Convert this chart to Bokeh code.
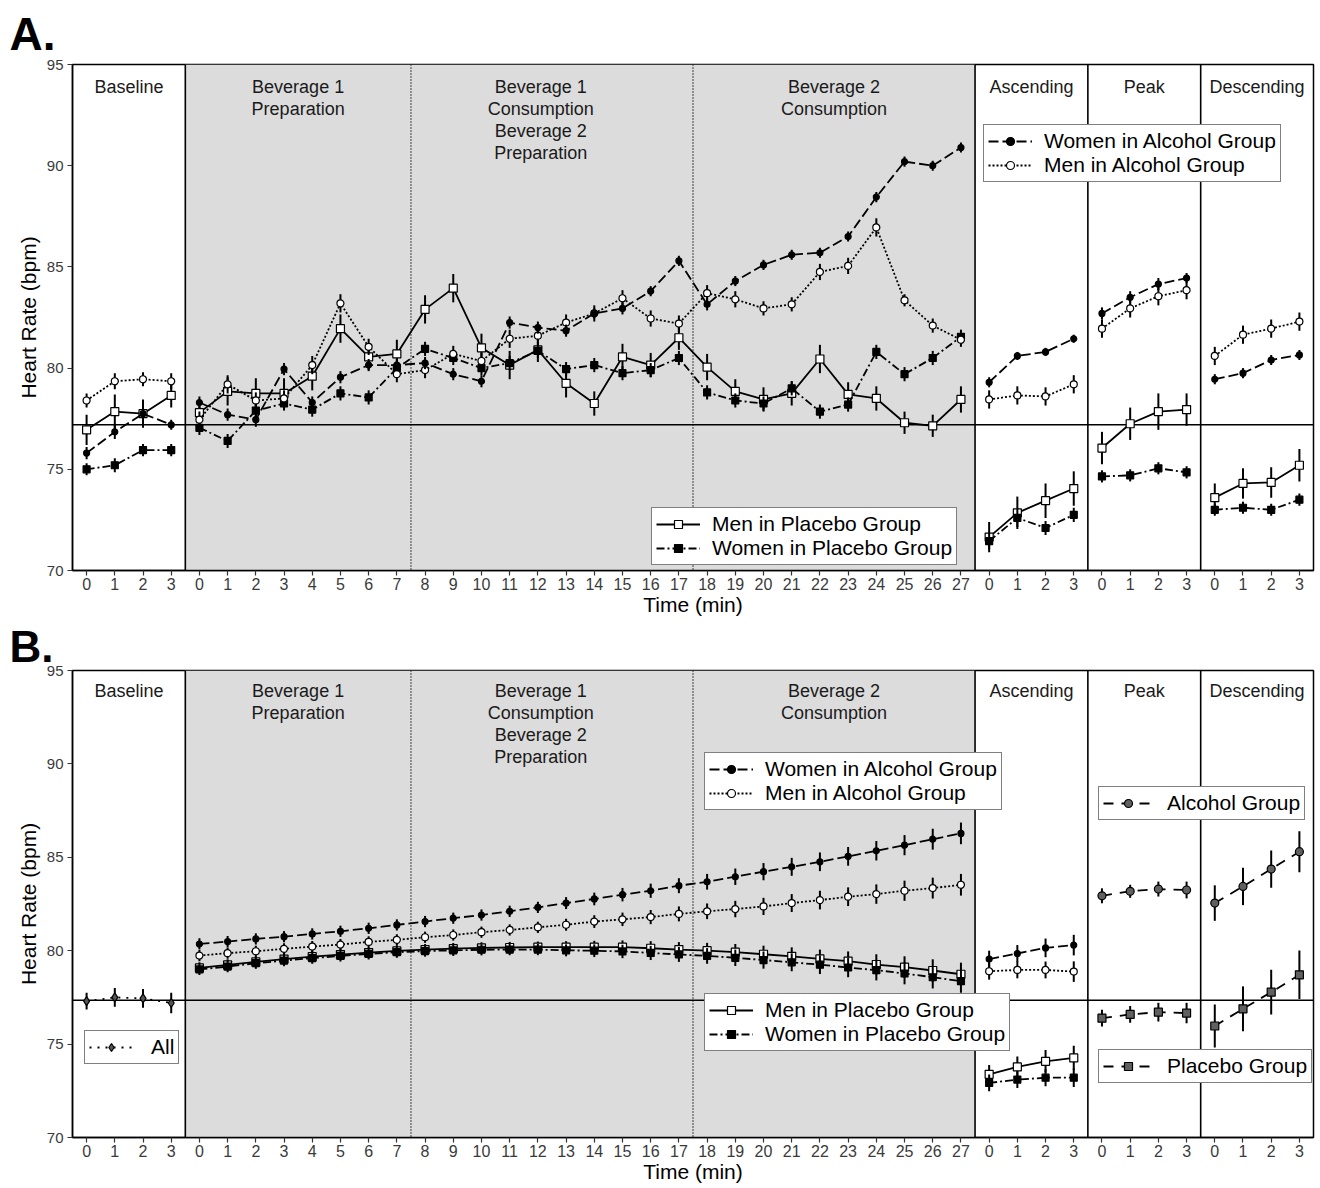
from bokeh.plotting import figure
from bokeh.models import (Span, BoxAnnotation, Legend, LegendItem, Title,
                          FixedTicker, Range1d, ColumnDataSource)
from bokeh.layouts import column
from bokeh.core.properties import value
from bokeh.embed import file_html
from bokeh.resources import INLINE

FONT = "Liberation Sans"

# ------------------------------------------------------------------ data
base_min = [0, 1, 2, 3]
bev_min = [0, 1, 2, 3, 4, 5, 6, 7, 8, 9, 10, 11, 12, 13, 14, 15, 16, 17, 18,
           19, 20, 21, 22, 23, 24, 25, 26, 27]
phase_min = [0, 1, 2, 3]

section_titles = ["Baseline", "Beverage 1\nPreparation",
                  "Beverage 1\nConsumption\nBeverage 2\nPreparation",
                  "Beverage 2\nConsumption", "Ascending", "Peak", "Descending"]

# Panel A -- means
A_wa_base = [75.8, 76.85, 77.75, 77.2]
A_ma_base = [78.4, 79.35, 79.45, 79.35]
A_mp_base = [76.95, 77.85, 77.75, 78.65]
A_wp_base = [75.0, 75.2, 75.95, 75.95]

A_wa_bev = [78.3, 77.7, 77.45, 79.95, 78.3, 79.55, 80.15, 80.15, 80.25, 79.7,
            79.35, 82.25, 82.0, 81.85, 82.7, 82.95, 83.8, 85.3, 83.15, 84.3,
            85.1, 85.6, 85.7, 86.5, 88.45, 90.2, 90.0, 90.9]
A_ma_bev = [77.45, 79.2, 78.4, 78.5, 80.15, 83.2, 81.05, 79.7, 79.9, 80.7,
            80.35, 81.45, 81.6, 82.25, 82.7, 83.45, 82.45, 82.2, 83.7, 83.4,
            82.95, 83.15, 84.75, 85.05, 86.95, 83.35, 82.1, 81.4]
A_mp_bev = [77.8, 78.85, 78.75, 78.75, 79.6, 81.95, 80.55, 80.7, 82.9, 83.95,
            81.0, 80.15, 80.9, 79.25, 78.25, 80.55, 80.15, 81.5, 80.05, 78.85,
            78.45, 78.75, 80.45, 78.7, 78.5, 77.3, 77.15, 78.45]
A_wp_bev = [77.05, 76.4, 77.9, 78.25, 77.95, 78.75, 78.55, 80.0, 80.95, 80.5,
            80.0, 80.25, 80.85, 79.95, 80.15, 79.75, 79.9, 80.5, 78.8, 78.4,
            78.25, 79.0, 77.85, 78.2, 80.8, 79.7, 80.5, 81.55]

A_wa_asc = [79.3, 80.6, 80.8, 81.45]
A_ma_asc = [78.45, 78.65, 78.6, 79.2]
A_mp_asc = [71.65, 72.85, 73.45, 74.05]
A_wp_asc = [71.45, 72.6, 72.1, 72.75]

A_wa_peak = [82.7, 83.5, 84.15, 84.45]
A_ma_peak = [81.95, 82.95, 83.55, 83.85]
A_mp_peak = [76.05, 77.25, 77.85, 77.95]
A_wp_peak = [74.65, 74.7, 75.05, 74.85]

A_wa_desc = [79.45, 79.75, 80.4, 80.65]
A_ma_desc = [80.6, 81.65, 81.95, 82.3]
A_mp_desc = [73.6, 74.3, 74.35, 75.2]
A_wp_desc = [73.0, 73.1, 73.0, 73.5]

# Panel A -- error bar half-widths
A_wa_base_e = [0.3, 0.35, 0.35, 0.25]
A_ma_base_e = [0.35, 0.4, 0.35, 0.4]
A_mp_base_e = [0.75, 0.85, 0.7, 0.6]
A_wp_base_e = [0.3, 0.35, 0.3, 0.3]
A_wa_bev_e = [0.3, 0.3, 0.35, 0.3, 0.3, 0.3, 0.3, 0.3, 0.3, 0.3, 0.3, 0.3,
              0.3, 0.3, 0.25, 0.3, 0.25, 0.25, 0.3, 0.25, 0.25, 0.25, 0.25,
              0.25, 0.25, 0.25, 0.25, 0.25]
A_ma_bev_e = [0.4, 0.45, 0.4, 0.4, 0.45, 0.45, 0.4, 0.4, 0.4, 0.4, 0.4, 0.45,
              0.4, 0.4, 0.4, 0.4, 0.4, 0.4, 0.4, 0.4, 0.35, 0.35, 0.4, 0.4,
              0.45, 0.3, 0.35, 0.35]
A_mp_bev_e = [0.55, 0.7, 0.75, 0.75, 0.7, 0.7, 0.65, 0.7, 0.7, 0.7, 0.7, 0.7,
              0.6, 0.7, 0.6, 0.65, 0.6, 0.6, 0.65, 0.6, 0.6, 0.6, 0.7, 0.6,
              0.6, 0.55, 0.55, 0.65]
A_wp_bev_e = [0.35, 0.35, 0.35, 0.35, 0.35, 0.35, 0.35, 0.35, 0.35, 0.35,
              0.35, 0.35, 0.35, 0.35, 0.35, 0.35, 0.35, 0.35, 0.35, 0.35,
              0.35, 0.35, 0.35, 0.35, 0.35, 0.35, 0.35, 0.35]
A_wa_asc_e = [0.25, 0.2, 0.2, 0.2]
A_ma_asc_e = [0.45, 0.45, 0.45, 0.45]
A_mp_asc_e = [0.75, 0.8, 0.85, 0.85]
A_wp_asc_e = [0.4, 0.45, 0.35, 0.35]
A_wa_peak_e = [0.3, 0.3, 0.3, 0.25]
A_ma_peak_e = [0.45, 0.45, 0.45, 0.45]
A_mp_peak_e = [0.8, 0.8, 0.9, 0.8]
A_wp_peak_e = [0.3, 0.3, 0.3, 0.3]
A_wa_desc_e = [0.25, 0.25, 0.25, 0.25]
A_ma_desc_e = [0.45, 0.45, 0.45, 0.45]
A_mp_desc_e = [0.7, 0.75, 0.75, 0.8]
A_wp_desc_e = [0.3, 0.3, 0.3, 0.3]

A_ref_line = 77.2

# Panel B -- means
B_all_base = [77.3, 77.5, 77.45, 77.2]
B_wa_bev = [80.36, 80.49, 80.63, 80.75, 80.9, 81.04, 81.2, 81.38, 81.56,
            81.74, 81.91, 82.11, 82.32, 82.55, 82.77, 83.0, 83.21, 83.48,
            83.69, 83.96, 84.23, 84.49, 84.76, 85.05, 85.35, 85.65, 85.97,
            86.28]
B_ma_bev = [79.74, 79.87, 79.97, 80.1, 80.22, 80.33, 80.47, 80.58, 80.72,
            80.84, 80.99, 81.11, 81.25, 81.39, 81.56, 81.68, 81.8, 81.97,
            82.11, 82.23, 82.37, 82.55, 82.71, 82.89, 83.03, 83.21, 83.35,
            83.53]
B_mp_bev = [79.08, 79.24, 79.4, 79.55, 79.68, 79.79, 79.9, 79.99, 80.06,
            80.11, 80.15, 80.17, 80.19, 80.19, 80.19, 80.19, 80.13, 80.06,
            80.0, 79.92, 79.81, 79.7, 79.56, 79.44, 79.26, 79.12, 78.94, 78.74]
B_wp_bev = [79.0, 79.15, 79.33, 79.47, 79.6, 79.72, 79.83, 79.92, 79.98,
            80.02, 80.05, 80.06, 80.06, 80.02, 80.0, 79.96, 79.88, 79.8, 79.72,
            79.62, 79.5, 79.38, 79.25, 79.1, 78.96, 78.78, 78.58, 78.37]
B_wa_asc = [79.55, 79.85, 80.15, 80.3]
B_ma_asc = [78.9, 78.97, 78.97, 78.88]
B_mp_asc = [73.38, 73.78, 74.08, 74.26]
B_wp_asc = [72.92, 73.1, 73.2, 73.2]
B_alc_peak = [82.94, 83.18, 83.3, 83.25]
B_plc_peak = [76.39, 76.59, 76.71, 76.66]
B_alc_desc = [82.55, 83.44, 84.37, 85.3]
B_plc_desc = [75.97, 76.89, 77.78, 78.71]

# Panel B -- error bar half-widths
B_all_base_e = [0.45, 0.5, 0.5, 0.55]
B_wa_bev_e = [0.3, 0.3, 0.3, 0.3, 0.3, 0.3, 0.3, 0.3, 0.3, 0.3, 0.3, 0.3,
              0.3, 0.32, 0.34, 0.36, 0.38, 0.4, 0.42, 0.44, 0.46, 0.48, 0.5,
              0.5, 0.52, 0.54, 0.56, 0.58]
B_ma_bev_e = [0.3, 0.3, 0.3, 0.3, 0.3, 0.3, 0.3, 0.3, 0.3, 0.3, 0.3, 0.3,
              0.3, 0.32, 0.34, 0.36, 0.38, 0.4, 0.42, 0.44, 0.46, 0.48, 0.5,
              0.5, 0.52, 0.54, 0.56, 0.58]
B_mp_bev_e = [0.3, 0.3, 0.3, 0.3, 0.3, 0.3, 0.3, 0.3, 0.3, 0.3, 0.3, 0.3,
              0.3, 0.32, 0.34, 0.36, 0.38, 0.4, 0.42, 0.44, 0.46, 0.48, 0.5,
              0.52, 0.55, 0.58, 0.6, 0.62]
B_wp_bev_e = [0.3, 0.3, 0.3, 0.3, 0.3, 0.3, 0.3, 0.3, 0.3, 0.3, 0.3, 0.3,
              0.3, 0.32, 0.34, 0.36, 0.38, 0.4, 0.42, 0.44, 0.46, 0.48, 0.5,
              0.52, 0.55, 0.58, 0.6, 0.62]
B_wa_asc_e = [0.45, 0.45, 0.5, 0.55]
B_ma_asc_e = [0.45, 0.45, 0.45, 0.55]
B_mp_asc_e = [0.5, 0.55, 0.6, 0.65]
B_wp_asc_e = [0.45, 0.45, 0.45, 0.5]
B_alc_peak_e = [0.4, 0.35, 0.4, 0.45]
B_plc_peak_e = [0.45, 0.45, 0.5, 0.55]
B_alc_desc_e = [0.95, 1.0, 1.0, 1.1]
B_plc_desc_e = [1.15, 1.2, 1.2, 1.3]

B_ref_line = 77.35

# ------------------------------------------------------------------ layout helpers
OFF_BASE = 0
OFF_BEV = OFF_BASE + len(base_min)
OFF_ASC = OFF_BEV + len(bev_min)
OFF_PEAK = OFF_ASC + len(phase_min)
OFF_DESC = OFF_PEAK + len(phase_min)
N_TOTAL = OFF_DESC + len(phase_min)

tick_overrides = {}
for off, mins in [(OFF_BASE, base_min), (OFF_BEV, bev_min), (OFF_ASC, phase_min),
                  (OFF_PEAK, phase_min), (OFF_DESC, phase_min)]:
    for m in mins:
        tick_overrides[off + m] = str(m)

bounds = [OFF_BEV - 0.5, OFF_ASC - 0.5, OFF_PEAK - 0.5, OFF_DESC - 0.5]
dotted = [OFF_BEV + 7.5, OFF_BEV + 17.5]
header_x = [(-0.5 + bounds[0]) / 2, (bounds[0] + dotted[0]) / 2,
            dotted[0] + 4.6, (dotted[1] + bounds[1]) / 2,
            (bounds[1] + bounds[2]) / 2, (bounds[2] + bounds[3]) / 2,
            (bounds[3] + N_TOTAL - 0.5) / 2]

STY = {
    "wa": dict(dash="10 4", marker="circle", size=6, fill="black"),
    "ma": dict(dash="2 2", marker="circle", size=7, fill="white"),
    "mp": dict(dash="solid", marker="square", size=8, fill="white"),
    "wp": dict(dash="8 3 2 3", marker="square", size=7, fill="black"),
    "all": dict(dash="2 6", marker="diamond", size=9, fill="#555555"),
    "alc": dict(dash="10 8", marker="circle", size=8, fill="#606060"),
    "plc": dict(dash="10 8", marker="square", size=8, fill="#606060"),
}


def draw(p, parts, st):
    first = None
    for off, mins, vals, errs in parts:
        xs = [off + m for m in mins]
        lo = [v - e for v, e in zip(vals, errs)]
        hi = [v + e for v, e in zip(vals, errs)]
        lr = p.line(xs, vals, line_color="black", line_width=1.8,
                    line_dash=st["dash"])
        p.segment(xs, lo, xs, hi, line_color="black", line_width=2)
        sr = p.scatter(xs, vals, marker=st["marker"], size=st["size"],
                       fill_color=st["fill"], line_color="black", line_width=1.2)
        if first is None:
            first = [lr, sr]
    return first


def add_legend(p, entries, loc, glyph_w=44, standoff=12):
    items = [LegendItem(label=lab, renderers=rs) for lab, rs in entries]
    lg = Legend(items=items, location=loc, orientation="vertical",
                label_text_font=FONT, label_text_font_size="21px",
                label_text_color="black", glyph_width=glyph_w, glyph_height=20,
                label_height=20, label_standoff=standoff, padding=4, spacing=0,
                margin=0, border_line_color="black", border_line_width=1.5,
                background_fill_color="white", background_fill_alpha=1.0)
    p.add_layout(lg)


def make_panel(height, top, bottom, ref_line, header_y, letter, t_size,
               t_standoff):
    p = figure(width=1316, height=height, output_backend="svg",
               toolbar_location=None, x_range=Range1d(-0.5, N_TOTAL - 0.5),
               y_range=Range1d(70, 95), min_border_left=72,
               min_border_right=3, min_border_top=top,
               min_border_bottom=bottom)
    p.title = Title(text=letter, align="left", offset=-63,
                    text_font=FONT, text_font_size=t_size,
                    text_font_style="bold", text_color="black",
                    standoff=t_standoff)
    p.background_fill_color = "white"
    p.border_fill_color = "white"
    p.outline_line_color = "black"
    p.outline_line_width = 1.5
    p.outline_line_alpha = 1.0
    p.xgrid.visible = False
    p.ygrid.visible = False

    p.xaxis.ticker = FixedTicker(ticks=list(range(N_TOTAL)))
    p.xaxis.major_label_overrides = tick_overrides
    p.yaxis.ticker = FixedTicker(ticks=[70, 75, 80, 85, 90, 95])
    for ax in (p.xaxis[0], p.yaxis[0]):
        ax.minor_tick_line_color = None
        ax.major_tick_out = 5
        ax.major_tick_in = 0
        ax.major_tick_line_color = "#333333"
        ax.major_tick_line_width = 1.2
        ax.axis_line_color = "black"
        ax.axis_line_width = 1.5
        ax.major_label_text_font = FONT
        ax.major_label_text_color = "#3a3a3a"
        ax.axis_label_text_font = FONT
        ax.axis_label_text_font_size = "21px"
        ax.axis_label_text_font_style = "normal"
        ax.axis_label_text_color = "black"
    p.xaxis.major_label_text_font_size = "16px"
    p.yaxis.major_label_text_font_size = "15px"
    p.xaxis.major_label_standoff = 2
    p.xaxis.axis_label_standoff = 0
    p.yaxis.major_label_standoff = 4
    p.yaxis.axis_label_standoff = 4
    p.xaxis.axis_label = "Time (min)"
    p.yaxis.axis_label = "Heart Rate (bpm)"

    p.add_layout(BoxAnnotation(left=bounds[0], right=bounds[1],
                               fill_color="#dcdcdc", fill_alpha=1.0,
                               line_color=None, level="underlay"))
    for b in bounds:
        p.add_layout(Span(location=b, dimension="height", line_color="black",
                          line_width=1.6, level="underlay"))
    for d in dotted:
        p.add_layout(Span(location=d, dimension="height", line_color="black",
                          line_width=1.4, line_dash="1 2", level="underlay"))
    p.add_layout(Span(location=ref_line, dimension="width", line_color="black",
                      line_width=1.6, level="underlay"))

    src = ColumnDataSource(dict(x=header_x, y=[header_y] * len(header_x),
                                t=section_titles))
    p.text(x="x", y="y", text="t", source=src, text_align="center",
           text_baseline="top", text_font=value(FONT),
           text_font_size="18px", text_color="#1a1a1a",
           text_line_height=1.1)
    return p


# ------------------------------------------------------------------ panel A
pA = make_panel(619, 62, 49, A_ref_line, 94.36, "A.", "46px", 10)
r_mp = draw(pA, [(OFF_BASE, base_min, A_mp_base, A_mp_base_e),
                 (OFF_BEV, bev_min, A_mp_bev, A_mp_bev_e),
                 (OFF_ASC, phase_min, A_mp_asc, A_mp_asc_e),
                 (OFF_PEAK, phase_min, A_mp_peak, A_mp_peak_e),
                 (OFF_DESC, phase_min, A_mp_desc, A_mp_desc_e)], STY["mp"])
r_wp = draw(pA, [(OFF_BASE, base_min, A_wp_base, A_wp_base_e),
                 (OFF_BEV, bev_min, A_wp_bev, A_wp_bev_e),
                 (OFF_ASC, phase_min, A_wp_asc, A_wp_asc_e),
                 (OFF_PEAK, phase_min, A_wp_peak, A_wp_peak_e),
                 (OFF_DESC, phase_min, A_wp_desc, A_wp_desc_e)], STY["wp"])
r_ma = draw(pA, [(OFF_BASE, base_min, A_ma_base, A_ma_base_e),
                 (OFF_BEV, bev_min, A_ma_bev, A_ma_bev_e),
                 (OFF_ASC, phase_min, A_ma_asc, A_ma_asc_e),
                 (OFF_PEAK, phase_min, A_ma_peak, A_ma_peak_e),
                 (OFF_DESC, phase_min, A_ma_desc, A_ma_desc_e)], STY["ma"])
r_wa = draw(pA, [(OFF_BASE, base_min, A_wa_base, A_wa_base_e),
                 (OFF_BEV, bev_min, A_wa_bev, A_wa_bev_e),
                 (OFF_ASC, phase_min, A_wa_asc, A_wa_asc_e),
                 (OFF_PEAK, phase_min, A_wa_peak, A_wa_peak_e),
                 (OFF_DESC, phase_min, A_wa_desc, A_wa_desc_e)], STY["wa"])
add_legend(pA, [("Women in Alcohol Group", r_wa), ("Men in Alcohol Group", r_ma)],
           (911, 388))
add_legend(pA, [("Men in Placebo Group", r_mp), ("Women in Placebo Group", r_wp)],
           (579, 5))

# ------------------------------------------------------------------ panel B
pB = make_panel(569, 50, 51, B_ref_line, 94.42, "B.", "44px", 0)
b_all = draw(pB, [(OFF_BASE, base_min, B_all_base, B_all_base_e)], STY["all"])
b_mp = draw(pB, [(OFF_BEV, bev_min, B_mp_bev, B_mp_bev_e),
                 (OFF_ASC, phase_min, B_mp_asc, B_mp_asc_e)], STY["mp"])
b_wp = draw(pB, [(OFF_BEV, bev_min, B_wp_bev, B_wp_bev_e),
                 (OFF_ASC, phase_min, B_wp_asc, B_wp_asc_e)], STY["wp"])
b_ma = draw(pB, [(OFF_BEV, bev_min, B_ma_bev, B_ma_bev_e),
                 (OFF_ASC, phase_min, B_ma_asc, B_ma_asc_e)], STY["ma"])
b_wa = draw(pB, [(OFF_BEV, bev_min, B_wa_bev, B_wa_bev_e),
                 (OFF_ASC, phase_min, B_wa_asc, B_wa_asc_e)], STY["wa"])
b_alc = draw(pB, [(OFF_PEAK, phase_min, B_alc_peak, B_alc_peak_e),
                  (OFF_DESC, phase_min, B_alc_desc, B_alc_desc_e)], STY["alc"])
b_plc = draw(pB, [(OFF_PEAK, phase_min, B_plc_peak, B_plc_peak_e),
                  (OFF_DESC, phase_min, B_plc_desc, B_plc_desc_e)], STY["plc"])
add_legend(pB, [("Women in Alcohol Group", b_wa), ("Men in Alcohol Group", b_ma)],
           (632, 327))
add_legend(pB, [("Men in Placebo Group", b_mp), ("Women in Placebo Group", b_wp)],
           (632, 86))
add_legend(pB, [("All", b_all)], (12, 73), glyph_w=44, standoff=18)
add_legend(pB, [("Alcohol Group", b_alc)], (1026, 317), glyph_w=50, standoff=14)
add_legend(pB, [("Placebo Group", b_plc)], (1026, 54), glyph_w=50, standoff=14)

layout = column(pA, pB)
open("out.html", "w").write(file_html(layout, INLINE))
